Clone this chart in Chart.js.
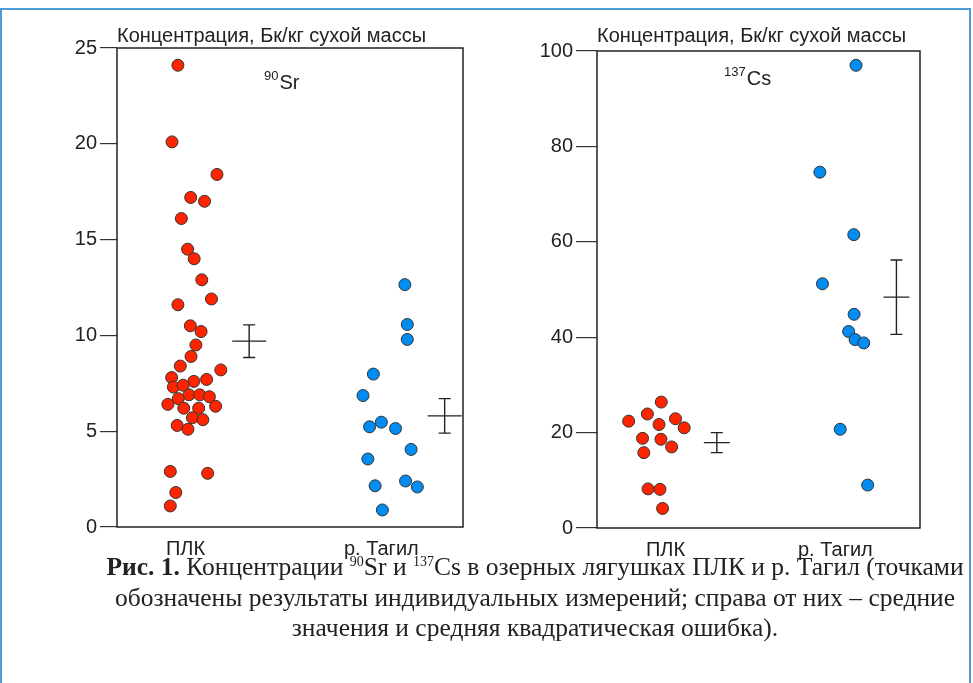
<!DOCTYPE html>
<html>
<head>
<meta charset="utf-8">
<script src="https://cdn.jsdelivr.net/npm/chart.js@4.4.0/dist/chart.umd.min.js"></script>
<style>
  html, body { margin: 0; padding: 0; background: #fff; }
  body { width: 973px; height: 683px; position: relative; overflow: hidden; }
  #frame { position: absolute; left: 0; top: 8px; width: 971px; height: 700px;
           border: 2px solid #4f9bd6; box-sizing: border-box; }
  .plot { position: absolute; }
  #srWrap { left: 20px; top: 10px; width: 450px; height: 557px; }
  #csWrap { left: 490px; top: 10px; width: 437px; height: 558px; }
  #caption { position: absolute; left: 60px; top: 552px; width: 950px; text-align: center; white-space: nowrap;
             font-family: "Liberation Serif", serif; font-size: 25.5px; line-height: 30.5px; color: #222; }
  #caption sup { font-size: 14px; vertical-align: 9px; line-height: 0; }
</style>
</head>
<body>
<div id="frame"></div>
<div class="plot" id="srWrap"><canvas id="srChart" width="450" height="557"></canvas></div>
<div class="plot" id="csWrap"><canvas id="csChart" width="437" height="558"></canvas></div>
<div id="caption"><b>Рис. 1.</b> Концентрации <sup>90</sup>Sr и <sup>137</sup>Cs в озерных лягушках ПЛК и р. Тагил (точками<br>обозначены результаты индивидуальных измерений; справа от них – средние<br>значения и средняя квадратическая ошибка).</div>
<script>
const catLabels = ['ПЛК', 'р. Тагил'];
const axisTitle = 'Концентрация, Бк/кг сухой массы';

// 90Sr, ПЛК
const srPlkX = [17.6, 15.9, 28.9, 21.3, 25.3, 18.6, 20.4, 22.3, 24.5, 17.6, 27.3, 21.2, 24.3, 22.8, 21.4, 18.3, 30.0, 15.8, 22.2,
                25.9, 16.3, 19.1, 20.8, 23.9, 26.7, 17.7, 14.7, 19.3, 23.6, 28.5, 21.8, 24.8, 17.4, 20.5, 15.4, 26.2, 17.0, 15.4];
const srPlkY = [24.1, 20.1, 18.4, 17.2, 17.0, 16.1, 14.5, 14.0, 12.9, 11.6, 11.9, 10.5, 10.2, 9.5, 8.9, 8.4, 8.2, 7.8, 7.6,
                7.7, 7.3, 7.4, 6.9, 6.9, 6.8, 6.7, 6.4, 6.2, 6.2, 6.3, 5.7, 5.6, 5.3, 5.1, 2.9, 2.8, 1.8, 1.1];
// 90Sr, р. Тагил
const srTagX = [83.2, 83.9, 83.9, 74.1, 71.1, 73.0, 76.4, 80.5, 85.0, 72.5, 74.6, 83.4, 86.8, 76.7];
const srTagY = [12.65, 10.57, 9.79, 7.98, 6.86, 5.23, 5.47, 5.14, 4.05, 3.55, 2.15, 2.4, 2.09, 0.89];
const srCatX = [19.8, 76.4];
const srMeanX = [38.2, 94.7];
const srMeans = [9.7, 5.8];
const srErrs = [0.85, 0.9];
const srTicks = [0, 5, 10, 15, 20, 25];

// 137Cs, ПЛК
const csPlkX = [19.9, 15.6, 9.8, 19.2, 24.3, 27.0, 14.1, 19.8, 23.1, 14.5, 15.8, 19.5, 20.3];
const csPlkY = [26.4, 23.9, 22.4, 21.7, 22.9, 21.0, 18.8, 18.6, 17.0, 15.8, 8.2, 8.1, 4.1];
// 137Cs, р. Тагил
const csTagX = [80.2, 69.0, 79.5, 69.8, 79.6, 77.9, 79.9, 82.6, 75.3, 83.8];
const csTagY = [97.0, 74.6, 61.5, 51.2, 44.8, 41.2, 39.5, 38.8, 20.7, 9.0];
const csCatX = [21.2, 73.8];
const csMeanX = [37.1, 92.7];
const csMeans = [17.9, 48.4];
const csErrs = [2.1, 7.8];
const csTicks = [0, 20, 40, 60, 80, 100];

const red = 'rgb(255, 36, 0)';
const blue = 'rgb(0, 140, 240)';
const ink = '#222';
const sans = '"Liberation Sans", Arial, sans-serif';

const toPoints = (xs, ys) => xs.map((x, i) => ({ x, y: ys[i] }));

// frame box, mean +- error marks and the isotope label
const frameAndMarks = {
  id: 'frameAndMarks',
  afterDatasetsDraw(chart, args, opts) {
    const { ctx, chartArea, scales } = chart;
    const { left, top, right, bottom } = chartArea;
    ctx.save();
    ctx.strokeStyle = ink;
    ctx.lineWidth = 1.4;
    opts.xs.forEach((xv, i) => {
      const x = scales.x.getPixelForValue(xv);
      const y = scales.y.getPixelForValue(opts.means[i]);
      const yHi = scales.y.getPixelForValue(opts.means[i] + opts.errs[i]);
      const yLo = scales.y.getPixelForValue(opts.means[i] - opts.errs[i]);
      ctx.beginPath();
      ctx.moveTo(x, yHi); ctx.lineTo(x, yLo);
      ctx.moveTo(x - 6, yHi); ctx.lineTo(x + 6, yHi);
      ctx.moveTo(x - 6, yLo); ctx.lineTo(x + 6, yLo);
      ctx.moveTo(x - opts.half, y); ctx.lineTo(x + opts.half, y);
      ctx.stroke();
    });
    ctx.lineWidth = 1.5;
    ctx.strokeRect(left, top, right - left, bottom - top);

    ctx.fillStyle = ink;
    ctx.textBaseline = 'alphabetic';
    ctx.font = '13px ' + sans;
    const massW = ctx.measureText(opts.mass).width;
    ctx.fillText(opts.mass, left + opts.labelDx, top + opts.labelDy - 9);
    ctx.font = '20px ' + sans;
    ctx.fillText(opts.sym, left + opts.labelDx + massW + 1, top + opts.labelDy);
    ctx.restore();
  }
};

function makeChart(id, cfg) {
  return new Chart(document.getElementById(id).getContext('2d'), {
    type: 'scatter',
    data: {
      datasets: [
        { data: toPoints(cfg.plkX, cfg.plkY), backgroundColor: red },
        { data: toPoints(cfg.tagX, cfg.tagY), backgroundColor: blue }
      ]
    },
    options: {
      responsive: false,
      animation: false,
      layout: { padding: { left: 0, right: 3, top: 0, bottom: 0 } },
      elements: { point: { radius: 6, borderWidth: 1, borderColor: '#333' } },
      scales: {
        x: {
          type: 'linear', min: 0, max: 100,
          afterBuildTicks: scale => { scale.ticks = cfg.catX.map(v => ({ value: v })); },
          afterFit: scale => { scale.height = 40; },
          grid: { display: false },
          border: { display: false },
          ticks: {
            autoSkip: false, maxRotation: 0, padding: 2, color: ink,
            font: { family: sans, size: 20 },
            callback: (v, i) => catLabels[i]
          }
        },
        y: {
          min: cfg.ticks[0], max: cfg.ticks[cfg.ticks.length - 1],
          afterBuildTicks: scale => { scale.ticks = cfg.ticks.map(v => ({ value: v })); },
          afterFit: scale => { scale.width = cfg.axisW; },
          grid: { drawOnChartArea: false, tickLength: cfg.tickLen, color: '#333', lineWidth: 1.2 },
          border: { display: false },
          ticks: { padding: 3, color: ink, font: { family: sans, size: 20 } }
        }
      },
      plugins: {
        legend: { display: false },
        tooltip: { enabled: false },
        title: {
          display: true, text: axisTitle, align: 'start', fullSize: false, color: ink,
          font: { family: sans, size: 20, weight: 'normal' },
          padding: { top: 14, bottom: cfg.titleBottom },
          position: 'top'
        },
        frameAndMarks: {
          xs: cfg.meanX, means: cfg.means, errs: cfg.errs, half: cfg.half,
          mass: cfg.mass, sym: cfg.sym, labelDx: cfg.labelDx, labelDy: cfg.labelDy
        }
      }
    },
    plugins: [frameAndMarks]
  });
}

makeChart('srChart', {
  plkX: srPlkX, plkY: srPlkY, tagX: srTagX, tagY: srTagY, catX: srCatX,
  meanX: srMeanX, means: srMeans, errs: srErrs, ticks: srTicks,
  axisW: 97, tickLen: 17, titleBottom: 0, half: 17,
  mass: '90', sym: 'Sr', labelDx: 147, labelDy: 41
});

makeChart('csChart', {
  plkX: csPlkX, plkY: csPlkY, tagX: csTagX, tagY: csTagY, catX: csCatX,
  meanX: csMeanX, means: csMeans, errs: csErrs, ticks: csTicks,
  axisW: 107, tickLen: 21, titleBottom: 3, half: 13,
  mass: '137', sym: 'Cs', labelDx: 127, labelDy: 34
});
</script>
</body>
</html>
